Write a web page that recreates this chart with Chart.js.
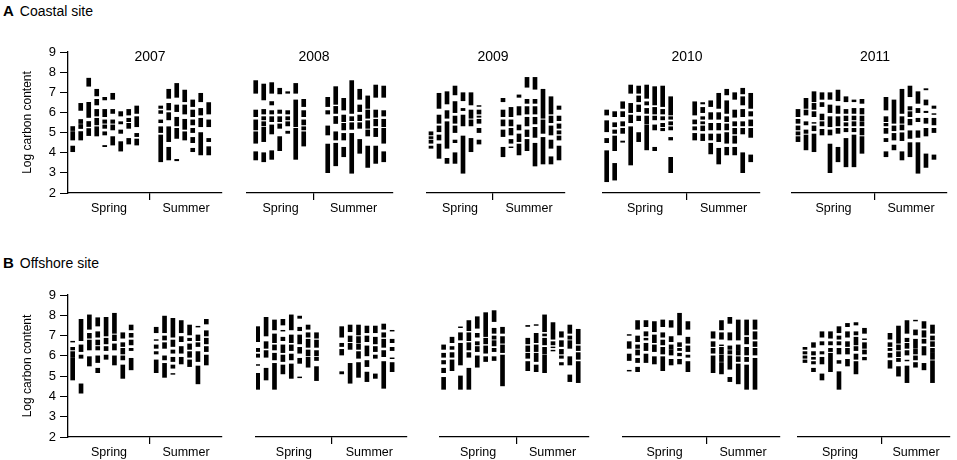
<!DOCTYPE html>
<html>
<head>
<meta charset="utf-8">
<script src="https://cdn.jsdelivr.net/npm/chart.js@4.4.0/dist/chart.umd.min.js"></script>
<style>
  body { margin: 0; background: #fff; width: 957px; height: 460px; overflow: hidden; position: relative;
         font-family: "Liberation Sans", Arial, sans-serif; color: #000; }
  .box { position: absolute; }
  .head { position: absolute; font-size: 14px; white-space: nowrap; }
  .head b { font-size: 15px; margin-right: 6px; }
</style>
</head>
<body>
<div class="head" style="left:3px; top:2px;"><b>A</b>Coastal site</div>
<div class="head" style="left:3px; top:254px;"><b>B</b>Offshore site</div>
<script>
// each column = list of [low, high] segments (log carbon content)
const coastal2007Spring = [
  [[5.1,5.3],[4.63,5.05],[4.05,4.33]],
  [[6.1,6.45],[5.45,5.65],[5.2,5.4],[4.63,5.05]],
  [[7.3,7.7],[5.75,6.5],[5.3,5.55],[4.85,5.2]],
  [[6.82,7.15],[6.37,6.65],[5.82,6.15],[5.38,5.71],[4.83,5.29]],
  [[6.62,6.75],[5.79,6.15],[5.46,5.63],[5.21,5.38],[4.88,5.04],[4.3,4.36]],
  [[6.65,6.95],[5.95,6.15],[5.46,5.63],[5.13,5.38],[4.38,4.8]],
  [[5.82,6.04],[5.43,5.54],[4.96,5.13],[4.08,4.55]],
  [[5.87,6.15],[5.54,5.71],[5.21,5.46],[4.43,4.71]],
  [[5.95,6.32],[5.29,5.79],[4.8,4.96],[4.38,4.68]]
];
const coastal2007Summer = [
  [[6.2,6.32],[5.95,6.09],[5.49,5.63],[5.0,5.29],[3.55,4.88]],
  [[6.7,7.15],[6.12,6.45],[5.63,5.99],[4.55,5.29],[3.64,4.27]],
  [[6.75,7.44],[6.04,6.37],[5.33,5.76],[4.71,5.21],[3.6,3.67]],
  [[6.53,7.11],[5.92,6.37],[5.16,5.66],[4.63,5.04]],
  [[6.29,6.62],[5.79,6.12],[5.38,5.63],[5.0,5.21],[4.5,4.76],[4.05,4.22]],
  [[6.53,6.95],[5.87,6.2],[5.29,5.71],[3.89,5.0]],
  [[5.92,6.49],[5.29,5.63],[4.55,4.71],[3.89,4.3]]
];
const coastal2008Spring = [
  [[6.95,7.58],[5.79,6.12],[5.13,5.63],[4.47,5.04],[3.64,4.05]],
  [[6.62,7.41],[5.92,6.15],[5.63,5.79],[5.33,5.54],[4.55,5.26],[3.55,4.0]],
  [[6.95,7.48],[6.37,6.54],[5.92,6.09],[5.54,5.79],[4.93,5.38],[3.67,4.1]],
  [[6.92,7.2],[5.95,6.12],[5.54,5.79],[5.21,5.43],[4.1,4.8]],
  [[6.95,7.03],[5.92,6.09],[5.63,5.79],[5.33,5.54],[4.96,5.07]],
  [[6.95,7.44],[5.29,6.62],[3.67,5.21]],
  [[6.29,6.65],[5.79,6.09],[5.38,5.63],[5.13,5.29],[4.33,5.04]]
];
const coastal2008Summer = [
  [[6.29,6.75],[5.92,6.09],[4.88,5.33],[3.01,4.43]],
  [[6.4,7.28],[5.95,6.3],[5.45,5.8],[4.63,5.04],[3.35,4.47]],
  [[6.12,6.7],[5.54,5.87],[5.13,5.46],[4.63,4.96],[3.8,4.27]],
  [[5.95,7.58],[5.59,5.79],[5.16,5.49],[2.98,4.96]],
  [[6.65,7.15],[6.04,6.37],[5.59,5.87],[5.21,5.49],[3.97,4.66]],
  [[6.2,6.82],[5.71,6.12],[5.21,5.59],[4.83,5.13],[3.27,4.33]],
  [[6.75,7.36],[5.76,6.12],[5.33,5.66],[4.8,5.21],[3.47,4.33]],
  [[6.75,7.31],[5.82,6.09],[5.29,5.66],[4.47,5.21],[3.55,4.05]]
];
const coastal2009Spring = [
  [[4.88,5.04],[4.7,4.8],[4.47,4.63],[4.22,4.33]],
  [[6.2,6.95],[5.46,5.87],[5.04,5.33],[4.63,4.88],[3.72,4.43]],
  [[6.42,7.03],[5.71,6.09],[4.22,5.54],[3.47,3.72]],
  [[6.87,7.31],[5.99,6.54],[5.46,5.82],[5.0,5.33],[4.5,4.63],[3.47,4.0]],
  [[6.58,6.98],[6.09,6.2],[5.33,5.87],[2.98,4.83]],
  [[6.37,6.98],[5.71,6.12],[5.33,5.63],[4.05,4.71]],
  [[6.3,6.34],[5.92,6.12],[5.76,5.82],[5.46,5.66],[5.0,5.21],[4.43,4.63]]
];
const coastal2009Summer = [
  [[6.53,6.7],[5.79,6.12],[5.33,5.63],[4.8,5.13],[3.8,4.27]],
  [[5.79,6.25],[5.33,5.63],[4.88,5.21],[4.47,4.66],[4.25,4.29]],
  [[6.75,6.87],[5.87,6.29],[5.13,5.38],[4.55,4.93],[3.89,4.43]],
  [[7.25,7.74],[6.45,6.65],[5.92,6.29],[5.33,5.76],[4.8,5.13],[4.1,4.66]],
  [[7.15,7.74],[6.45,6.65],[5.92,6.29],[5.43,5.76],[4.76,5.26],[3.34,4.47]],
  [[5.71,7.15],[4.96,5.63],[3.44,4.76]],
  [[5.92,6.78],[5.49,5.82],[4.88,5.33],[4.22,4.63],[3.44,3.8]],
  [[6.15,6.32],[5.59,5.82],[5.21,5.43],[4.93,5.09],[4.63,4.83],[3.64,4.33]]
];
const coastal2010Spring = [
  [[5.87,6.12],[5.04,5.59],[4.5,4.71],[2.56,4.1]],
  [[5.79,6.04],[5.29,5.49],[4.96,5.13],[4.1,4.83],[2.64,3.47]],
  [[6.2,6.53],[5.79,6.04],[5.33,5.54],[4.96,5.21],[4.52,4.58]],
  [[6.95,7.36],[5.99,6.45],[5.49,5.87],[3.39,5.29]],
  [[6.95,7.31],[6.53,6.82],[6.04,6.37],[5.59,5.82],[4.55,5.0]],
  [[6.7,7.36],[6.37,6.53],[5.95,6.2],[5.43,5.82],[4.14,5.38]],
  [[6.37,7.28],[5.92,6.25],[5.63,5.82],[5.13,5.38],[4.1,4.27]],
  [[6.29,7.31],[5.92,6.15],[5.63,5.79],[5.29,5.46],[5.09,5.21]],
  [[5.87,6.78],[5.66,5.79],[5.38,5.54],[5.13,5.29],[4.63,4.76],[3.01,3.77]]
];
const coastal2010Summer = [
  [[5.87,6.53],[5.43,5.63],[5.13,5.29],[4.63,4.96]],
  [[6.42,6.49],[5.99,6.25],[5.66,5.79],[5.43,5.54],[5.09,5.33],[4.6,4.93]],
  [[6.29,6.58],[5.66,5.99],[5.13,5.46],[4.63,4.93],[3.94,4.47]],
  [[6.2,6.95],[5.66,5.99],[5.13,5.46],[4.55,4.93],[3.44,4.22]],
  [[6.87,7.15],[5.95,6.58],[5.54,5.79],[5.13,5.43],[4.47,5.0],[3.89,4.27]],
  [[6.65,6.98],[5.76,6.12],[5.33,5.54],[4.93,5.21],[4.47,4.83],[3.89,4.27]],
  [[6.92,7.2],[6.37,6.78],[5.79,6.15],[5.33,5.54],[4.93,5.21],[3.01,4.0]],
  [[6.2,6.95],[5.82,6.04],[5.33,5.63],[4.76,5.21],[3.55,3.89]]
];
const coastal2011Spring = [
  [[5.79,6.15],[5.46,5.66],[5.13,5.33],[4.88,5.04],[4.55,4.8]],
  [[6.2,6.7],[5.87,6.12],[5.38,5.54],[4.96,5.13],[4.14,4.88]],
  [[6.53,7.03],[6.15,6.45],[5.79,6.04],[5.46,5.5],[5.09,5.33],[4.05,4.93]],
  [[6.65,6.98],[6.29,6.49],[5.63,5.92],[5.33,5.54],[4.88,5.16]],
  [[6.65,6.98],[5.99,6.37],[5.29,5.79],[4.88,5.13],[3.01,4.43]],
  [[6.58,7.11],[5.95,6.32],[5.33,5.79],[4.96,5.21],[3.55,4.27]],
  [[6.53,6.78],[5.95,6.15],[5.59,5.82],[5.33,5.49],[5.04,5.21],[3.3,4.71]],
  [[6.53,6.62],[5.95,6.2],[5.63,5.82],[5.33,5.54],[5.04,5.21],[3.3,4.88]],
  [[6.45,6.65],[5.92,6.2],[5.59,5.82],[5.33,5.54],[4.88,5.21],[3.97,4.8]]
];
const coastal2011Summer = [
  [[6.12,6.75],[5.54,5.79],[5.33,5.46],[4.96,5.21],[4.55,4.71],[3.8,4.05]],
  [[5.46,6.62],[5.09,5.33],[4.63,4.96],[4.14,4.38]],
  [[5.95,7.15],[5.46,5.79],[5.13,5.38],[4.6,4.99],[3.64,4.05]],
  [[6.78,7.31],[6.12,6.29],[5.79,6.04],[5.38,5.66],[4.71,5.09],[3.8,4.5]],
  [[6.45,7.03],[5.99,6.2],[5.54,5.71],[4.76,5.09],[2.98,4.5]],
  [[7.12,7.18],[6.37,6.62],[5.99,6.06],[5.46,5.71],[4.83,5.21],[3.27,3.94]],
  [[6.2,6.32],[5.9,5.94],[5.38,5.71],[5.0,5.21],[3.67,3.89]]
];

const offshore2007Spring = [
  [[6.68,6.72],[6.29,6.42],[5.96,6.21],[4.81,5.92]],
  [[6.75,7.8],[6.21,6.54],[5.88,6.04],[4.16,4.62]],
  [[7.31,8.02],[6.87,7.11],[6.29,6.78],[5.5,5.96]],
  [[7.47,7.88],[6.92,7.19],[6.54,6.78],[6.29,6.46],[5.67,6.0],[5.17,5.39]],
  [[6.98,7.9],[6.59,6.87],[6.26,6.46],[5.83,6.04]],
  [[7.11,8.1],[6.75,7.03],[6.29,6.59],[5.55,6.0]],
  [[6.87,7.14],[6.46,6.65],[6.09,6.37],[5.8,6.0],[4.89,5.55]],
  [[7.28,7.52],[6.92,7.11],[6.54,6.78],[6.26,6.37],[5.31,5.88]]
];
const offshore2007Summer = [
  [[7.14,7.41],[6.76,6.8],[6.37,6.54],[6.09,6.21],[5.17,5.8]],
  [[7.14,7.96],[6.78,6.98],[6.37,6.65],[5.8,6.0],[4.94,5.63]],
  [[6.92,7.85],[6.46,6.78],[6.13,6.29],[5.72,5.93],[5.39,5.55],[5.09,5.13]],
  [[7.14,7.74],[6.7,6.95],[6.13,6.46],[5.6,5.93]],
  [[7.03,7.52],[6.75,6.87],[6.32,6.59],[5.93,6.21],[5.47,5.8]],
  [[7.42,7.46],[6.75,7.03],[6.46,6.65],[5.72,6.21],[4.62,5.5]],
  [[7.57,7.8],[6.98,7.24],[6.59,6.87],[6.21,6.46],[5.55,6.04]]
];
const offshore2008Spring = [
  [[6.7,7.44],[6.21,6.37],[5.93,6.09],[5.53,5.57],[4.35,5.14]],
  [[6.98,7.9],[6.37,6.7],[5.93,6.26],[4.81,5.39]],
  [[7.28,7.77],[6.65,7.08],[6.29,6.54],[5.8,6.13],[4.35,5.63]],
  [[7.52,7.8],[7.22,7.26],[6.75,6.92],[6.16,6.54],[5.72,6.04],[5.11,5.55]],
  [[7.28,8.02],[6.65,7.03],[6.26,6.54],[5.8,6.09],[4.89,5.6]],
  [[7.85,7.96],[7.24,7.41],[6.59,7.03],[6.13,6.42],[5.63,5.88],[4.92,4.96]],
  [[7.31,7.52],[6.92,7.14],[6.42,6.82],[6.0,6.29],[5.44,5.93]],
  [[6.87,7.14],[6.42,6.78],[6.0,6.26],[5.77,5.93],[4.78,5.47]]
];
const offshore2008Summer = [
  [[6.92,7.44],[6.46,6.62],[6.04,6.32],[5.11,5.22]],
  [[7.19,7.52],[6.7,6.98],[6.32,6.62],[4.65,5.63]],
  [[7.03,7.52],[6.65,6.95],[6.32,6.59],[5.88,6.21],[4.94,5.67]],
  [[7.14,7.47],[6.7,6.98],[6.0,6.49],[5.47,5.77],[4.73,5.2]],
  [[7.14,7.47],[6.59,6.92],[6.21,6.46],[5.88,6.04],[4.89,5.11]],
  [[7.31,7.57],[6.92,7.14],[6.42,6.82],[5.96,6.26],[4.4,5.72]],
  [[7.22,7.26],[6.65,6.82],[6.26,6.42],[5.86,5.9],[5.22,5.67]]
];
const offshore2009Spring = [
  [[6.32,6.54],[5.93,6.13],[5.6,5.77],[5.17,5.39],[4.35,4.94]],
  [[6.65,6.92],[6.32,6.46],[5.93,6.16],[5.27,5.8]],
  [[7.39,7.43],[6.78,7.14],[5.55,6.62],[4.35,5.01]],
  [[7.24,7.74],[6.75,7.14],[6.29,6.65],[5.93,6.16],[4.35,5.39]],
  [[7.36,7.93],[6.92,7.11],[6.54,6.7],[6.21,6.46],[5.44,6.0]],
  [[6.95,8.13],[6.59,6.87],[6.13,6.49],[5.72,5.96]],
  [[7.69,8.23],[7.11,7.36],[6.82,6.98],[6.49,6.75],[6.21,6.37],[5.77,5.96]],
  [[7.11,7.41],[6.62,6.95],[6.16,6.54],[4.52,6.04]]
];
const offshore2009Summer = [
  [[7.45,7.5],[6.59,6.87],[6.21,6.49],[5.88,6.13],[5.27,5.72]],
  [[7.5,7.54],[6.65,7.11],[6.21,6.54],[5.72,6.13],[5.22,5.55]],
  [[7.19,8.02],[6.98,7.08],[6.54,6.87],[6.09,6.42],[5.17,6.04]],
  [[6.82,7.64],[6.54,6.7],[6.4,6.44],[6.24,6.28]],
  [[6.92,7.19],[6.46,6.75],[6.09,6.32],[5.88,6.0],[5.55,5.67]],
  [[7.11,7.52],[6.82,6.98],[6.37,6.75],[5.55,5.96],[4.73,5.06]],
  [[6.59,7.31],[6.26,6.49],[5.83,6.16],[4.68,5.72]]
];
const offshore2010Spring = [
  [[7.01,7.05],[6.37,6.7],[5.77,6.09],[5.25,5.29]],
  [[7.31,7.74],[6.7,6.98],[6.37,6.54],[6.04,6.29],[5.67,5.88],[5.22,5.44]],
  [[7.44,7.74],[6.98,7.19],[6.78,6.87],[6.26,6.62],[5.67,6.09]],
  [[7.19,7.69],[6.65,7.03],[6.21,6.54],[5.6,5.96]],
  [[7.44,7.77],[6.92,7.14],[6.54,6.78],[6.09,6.42],[5.27,5.96]],
  [[7.41,7.74],[6.7,6.95],[6.32,6.54],[6.04,6.29],[5.55,5.83]],
  [[7.03,8.1],[6.46,6.65],[6.26,6.37],[6.0,6.13],[5.6,5.83]],
  [[7.31,7.69],[6.62,6.92],[6.21,6.49],[5.93,6.04],[5.22,5.72]]
];
const offshore2010Summer = [
  [[6.87,7.19],[6.46,6.7],[6.13,6.37],[5.17,6.0]],
  [[7.28,7.74],[6.82,7.14],[6.5,6.54],[6.09,6.42],[5.72,6.04],[5.11,5.67]],
  [[7.6,7.9],[6.78,7.14],[6.32,6.49],[6.09,6.26],[5.34,6.0],[4.73,4.94]],
  [[6.78,7.77],[6.26,6.54],[6.04,6.24],[5.72,5.96],[4.62,5.6]],
  [[7.03,7.77],[6.59,6.92],[6.04,6.42],[5.72,5.93],[4.35,5.55]],
  [[7.31,7.77],[6.82,7.19],[6.46,6.7],[6.04,6.37],[4.35,5.88]]
];
const offshore2011Spring = [
  [[6.32,6.42],[6.09,6.21],[5.88,6.0],[5.67,5.8]],
  [[6.42,6.65],[6.04,6.21],[5.83,5.93],[5.6,5.72],[5.22,5.39]],
  [[6.92,7.19],[6.54,6.7],[6.09,6.21],[5.6,5.93],[4.81,5.11]],
  [[6.87,7.19],[6.54,6.7],[6.21,6.37],[5.22,6.13]],
  [[7.14,7.44],[6.82,6.98],[6.54,6.7],[6.09,6.37],[5.63,5.77],[4.35,5.22]],
  [[7.44,7.6],[6.92,7.19],[6.46,6.7],[6.09,6.37],[5.5,5.83]],
  [[7.52,7.64],[7.03,7.19],[6.54,6.92],[6.26,6.46],[5.83,6.09],[5.11,5.72]],
  [[7.11,7.36],[6.8,6.84],[6.37,6.65],[6.09,6.29],[5.8,5.93]]
];
const offshore2011Summer = [
  [[6.82,7.11],[6.46,6.65],[6.26,6.37],[5.93,6.13],[5.39,5.77]],
  [[6.62,7.47],[6.29,6.54],[5.96,6.21],[5.72,5.88],[5.0,5.47]],
  [[7.11,7.74],[6.7,6.87],[6.37,6.62],[6.04,6.26],[5.75,5.79],[4.68,5.5]],
  [[7.72,7.76],[7.03,7.28],[6.65,6.82],[6.37,6.62],[6.09,6.32],[5.8,6.0],[5.44,5.67]],
  [[7.36,7.69],[6.92,7.24],[6.62,6.82],[6.04,6.46],[5.31,5.63]],
  [[7.11,7.52],[6.78,6.98],[6.46,6.7],[6.16,6.37],[5.83,6.13],[4.68,5.76]]
];

const years = ['2007', '2008', '2009', '2010', '2011'];
const seasons = ['Spring', 'Summer'];
const yMin = 2, yMax = 9;

const coastal = [
  [coastal2007Spring, coastal2007Summer], [coastal2008Spring, coastal2008Summer],
  [coastal2009Spring, coastal2009Summer], [coastal2010Spring, coastal2010Summer],
  [coastal2011Spring, coastal2011Summer]
];
const offshore = [
  [offshore2007Spring, offshore2007Summer], [offshore2008Spring, offshore2008Summer],
  [offshore2009Spring, offshore2009Summer], [offshore2010Spring, offshore2010Summer],
  [offshore2011Spring, offshore2011Summer]
];

// page layout: pixel extent of each panel, x range in column units,
// index where summer columns start, and spring|summer split
const rows = [
  { sets: coastal, top: 52, bottom: 193, titles: true, panels: [
    { left: 68,  right: 222, xMin: -0.59, xMax: 18.66, summer: 11, split: 9.66 },
    { left: 247, right: 393, xMin: -1.09, xMax: 17.16, summer: 9,  split: 7.29 },
    { left: 427, right: 565, xMin: -0.5,  xMax: 16.75, summer: 9,  split: 7.75 },
    { left: 603, right: 760, xMin: -0.46, xMax: 19.16, summer: 11, split: 10.04 },
    { left: 792, right: 947, xMin: -0.75, xMax: 18.63, summer: 11, split: 9.63 }
  ]},
  { sets: offshore, top: 295, bottom: 437, titles: false, panels: [
    { left: 68,  right: 222, xMin: -0.56, xMax: 17.88, summer: 10, split: 9.26 },
    { left: 256, right: 407, xMin: -0.2,  xMax: 17.77, summer: 10, split: 8.81 },
    { left: 440, right: 589, xMin: -0.43, xMax: 17.28, summer: 10, split: 8.62 },
    { left: 623, right: 780, xMin: -0.74, xMax: 17.98, summer: 10, split: 9.17 },
    { left: 798, right: 950, xMin: -0.82, xMax: 17.06, summer: 10, split: 9.06 }
  ]}
];

Chart.defaults.font.family = '"Liberation Sans", Arial, sans-serif';
Chart.defaults.color = '#000';

const yearTitle = {
  id: 'yearTitle',
  afterDraw(chart, args, opts) {
    if (!opts.text) return;
    const { ctx, chartArea } = chart;
    const x = chart.scales.x.getPixelForValue(opts.at);
    ctx.save();
    ctx.font = '14px "Liberation Sans", Arial, sans-serif';
    ctx.fillStyle = '#000';
    ctx.textAlign = 'center';
    ctx.textBaseline = 'middle';
    ctx.fillText(opts.text, x, chartArea.top + 5);
    ctx.restore();
  }
};

const padTop = 12, axisH = 24, yAxisW = 68, padSide = 6;

function makePanel(row, p, i) {
  const [spring, summer] = row.sets[i];
  const first = i === 0;
  const left = first ? 0 : p.left - padSide;
  const width = first ? p.right + padSide : p.right - p.left + 2 * padSide;
  const top = row.top - padTop;
  const height = padTop + (row.bottom - row.top) + axisH;

  const box = document.createElement('div');
  box.className = 'box';
  box.style.left = left + 'px';
  box.style.top = top + 'px';
  box.style.width = width + 'px';
  box.style.height = height + 'px';
  const canvas = document.createElement('canvas');
  box.appendChild(canvas);
  document.body.appendChild(box);

  const points = [];
  spring.forEach((col, c) => col.forEach(seg => points.push({ x: c, y: seg })));
  summer.forEach((col, c) => col.forEach(seg => points.push({ x: p.summer + c, y: seg })));

  const springMid = (p.xMin + p.split) / 2;
  const summerMid = (p.split + p.xMax) / 2;

  new Chart(canvas, {
    type: 'bar',
    data: {
      datasets: [{
        data: points,
        backgroundColor: '#000',
        borderWidth: 0,
        barThickness: 4
      }]
    },
    options: {
      responsive: true,
      maintainAspectRatio: false,
      animation: false,
      events: [],
      layout: { padding: { top: padTop, bottom: 0, left: first ? 0 : padSide, right: padSide } },
      plugins: {
        legend: { display: false },
        tooltip: { enabled: false },
        yearTitle: { text: row.titles ? years[i] : '', at: p.split }
      },
      scales: {
        x: {
          type: 'linear',
          min: p.xMin,
          max: p.xMax,
          offset: false,
          afterBuildTicks: s => { s.ticks = [{ value: springMid }, { value: p.split }, { value: summerMid }]; },
          afterFit: s => { s.height = axisH; },
          ticks: {
            callback: (v, k) => k === 0 ? seasons[0] : (k === 2 ? seasons[1] : ''),
            font: { size: 12.5 },
            padding: 1,
            maxRotation: 0,
            autoSkip: false
          },
          grid: {
            offset: false,
            drawOnChartArea: false,
            tickLength: 7,
            lineWidth: 1.2,
            color: c => c.index === 1 ? '#000' : 'rgba(0,0,0,0)'
          },
          border: { color: '#000', width: 1.3 }
        },
        y: {
          display: first,
          min: yMin,
          max: yMax,
          afterFit: s => { s.width = first ? yAxisW : 0; },
          ticks: { stepSize: 1, font: { size: 13 }, padding: 4 },
          grid: { drawOnChartArea: false, tickLength: 8, color: '#000', lineWidth: 1 },
          border: { color: '#000', width: 1.3 },
          title: {
            display: true,
            text: 'Log carbon content',
            font: { size: 12 },
            padding: { top: 20, bottom: 0 }
          }
        }
      }
    },
    plugins: [yearTitle]
  });
}

rows.forEach(row => row.panels.forEach((p, i) => makePanel(row, p, i)));
</script>
</body>
</html>
